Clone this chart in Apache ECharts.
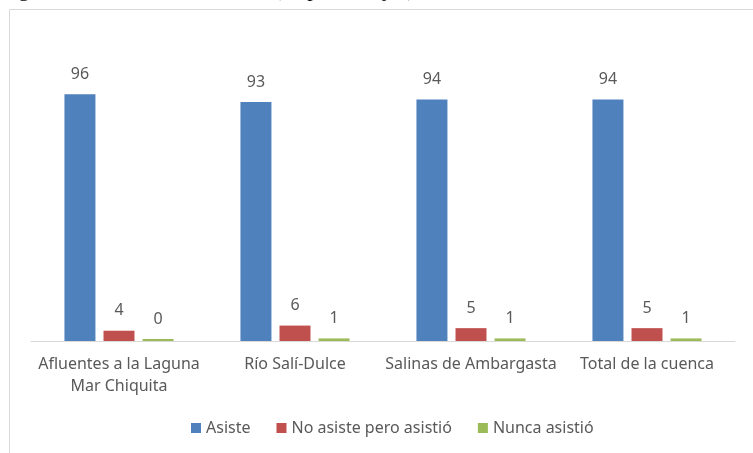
<!DOCTYPE html>
<html><head><meta charset="utf-8">
<script src="https://cdn.jsdelivr.net/npm/echarts@6/dist/echarts.min.js"></script>
<style>html,body{margin:0;padding:0;background:#fff}#c{width:753px;height:453px}</style>
</head><body><div id="c"></div>
<script>
const categories = ['Afluentes a la Laguna\nMar Chiquita', 'Río Salí-Dulce', 'Salinas de Ambargasta', 'Total de la cuenca'];
const asiste = [96, 93, 94, 94];
const noAsistePeroAsistio = [4, 6, 5, 5];
const nuncaAsistio = [0, 1, 1, 1];
const seriesNames = ['Asiste', 'No asiste pero asistió', 'Nunca asistió'];
const titleText = 'según asistencia escolar actual (en porcentajes)';

const chart = echarts.init(document.getElementById('c'), null, {renderer: 'canvas'});
const font = '"Noto Sans", "Open Sans", sans-serif';
const labelCfg = {show: true, position: 'top', distance: 12, color: '#595959', fontSize: 16, fontFamily: font};
function mk(name, data, color, extra) {
  return Object.assign({
    name, type: 'bar', data, barWidth: 31, barGap: '26%',
    itemStyle: {color}, label: labelCfg
  }, extra || {});
}
chart.setOption({
  animation: false,
  backgroundColor: '#fff',
  graphic: [
    {type: 'rect', shape: {x: 9.5, y: 9.5, width: 800, height: 500}, style: {fill: 'none', stroke: '#d9d9d9', lineWidth: 1}, silent: true},
    {type: 'text', left: 0, top: -21, style: {text: titleText, font: '22px "Liberation Serif", serif', fill: '#000'}}
  ],
  legend: {
    data: seriesNames, bottom: 12, left: 186, itemWidth: 10, itemHeight: 10, itemGap: 26,
    icon: 'rect', textStyle: {color: '#595959', fontSize: 16, fontFamily: font}
  },
  grid: {left: 31, right: 18, top: 84, bottom: 112, containLabel: false},
  xAxis: {
    type: 'category', data: categories,
    axisLine: {lineStyle: {color: '#d9d9d9'}}, axisTick: {show: false},
    axisLabel: {color: '#595959', fontSize: 16, fontFamily: font, lineHeight: 22, margin: 12, interval: 0}
  },
  yAxis: {type: 'value', min: 0, max: 100, show: false, splitLine: {show: false}},
  series: [
    mk(seriesNames[0], asiste, '#4f81bd'),
    mk(seriesNames[1], noAsistePeroAsistio, '#c0504d'),
    mk(seriesNames[2], nuncaAsistio, '#9bbb59', {barMinHeight: 2})
  ]
});
</script></body></html>
